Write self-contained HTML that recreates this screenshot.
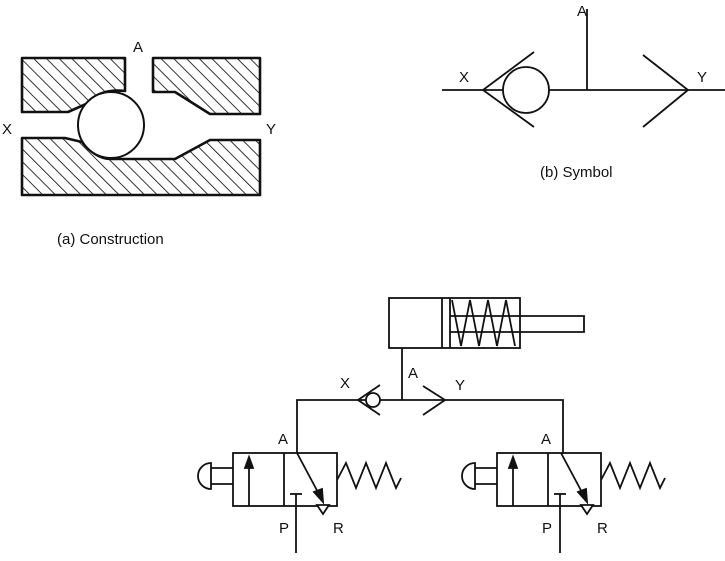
<!DOCTYPE html>
<html><head><meta charset="utf-8"><style>
html,body{margin:0;padding:0;background:#fff}
svg{display:block}
text{font-family:"Liberation Sans",Arial,sans-serif;fill:#111}
</style></head><body>
<svg width="725" height="561" viewBox="0 0 725 561" xmlns="http://www.w3.org/2000/svg">
<defs>
<pattern id="h" patternUnits="userSpaceOnUse" width="9" height="9" patternTransform="rotate(-45)">
<line x1="0" y1="0" x2="0" y2="9" stroke="#111" stroke-width="1.7"/>
</pattern>
</defs>
<g stroke="#111" stroke-width="2.6" fill="url(#h)" stroke-linejoin="round">
<path d="M22,58 H125 V91 Q100,88 86,104 L68,112 H22 Z"/>
<path d="M153,58 H260 V114 H210 L175,92 H153 Z"/>
<path d="M22,138 H65 L82,142 Q95,158 110,159 H175 L210,140 H260 V195 H22 Z"/>
</g>
<circle cx="111" cy="125" r="33" fill="#fff" stroke="#111" stroke-width="2"/>
<text x="133" y="52" font-size="15">A</text>
<text x="2" y="134" font-size="15">X</text>
<text x="266" y="134" font-size="15">Y</text>
<text x="57" y="244" font-size="15">(a)  Construction</text>

<g stroke="#111" stroke-width="1.8" fill="none">
<line x1="442" y1="90" x2="725" y2="90"/>
<line x1="587" y1="9" x2="587" y2="90"/>
<circle cx="526" cy="90" r="23" fill="#fff"/>
<polyline points="534,52 483,90 534,127"/>
<polyline points="643,55 688,90 643,127"/>
</g>
<text x="577" y="16" font-size="15">A</text>
<text x="459" y="82" font-size="15">X</text>
<text x="697" y="82" font-size="15">Y</text>
<text x="540" y="177" font-size="15">(b)  Symbol</text>

<g stroke="#111" stroke-width="1.8" fill="none">
<line x1="442" y1="298" x2="442" y2="348"/>
<line x1="450" y1="298" x2="450" y2="348"/>
<polyline points="452,300 461,346 470,300 479,346 488,300 497,346 506,300 515,346"/>
<polyline points="450,316 584,316 584,332 450,332"/>
<rect x="389" y="298" width="131" height="50"/>
<line x1="402" y1="348" x2="402" y2="400"/>
<polyline points="297,453 297,400 563,400 563,454"/>
<circle cx="373" cy="400" r="7" fill="#fff"/>
<polyline points="380,385 358,400 380,415"/>
<polyline points="423,386 445,400 423,415"/>
</g>
<text x="340" y="388" font-size="15">X</text>
<text x="408" y="378" font-size="15">A</text>
<text x="455" y="390" font-size="15">Y</text>

<g id="v" stroke="#111" stroke-width="1.8" fill="none">
<rect x="233" y="453" width="104" height="53"/>
<line x1="284" y1="453" x2="284" y2="506"/>
<line x1="249" y1="506" x2="249" y2="466"/>
<polygon points="249,457 245,468 253,468" fill="#111"/>
<line x1="297" y1="453" x2="320" y2="496"/>
<polygon points="323,502 314,492 322,489" fill="#111"/>
<polygon points="317,505 329,505 323,514" fill="#fff"/>
<line x1="290" y1="494" x2="302" y2="494"/>
<line x1="296" y1="494" x2="296" y2="553"/>
<path d="M211,468 H233 M211,484 H233"/>
<path d="M211,463 A13,13 0 0 0 211,489 Z"/>
<polyline points="337,480 346,463 356,488 366,463 376,488 386,463 396,488 401,478"/>
</g>
<use href="#v" x="264" y="0"/>
<text x="278" y="444" font-size="15">A</text>
<text x="279" y="533" font-size="15">P</text>
<text x="333" y="533" font-size="15">R</text>
<text x="541" y="444" font-size="15">A</text>
<text x="542" y="533" font-size="15">P</text>
<text x="597" y="533" font-size="15">R</text>
</svg>
</body></html>
